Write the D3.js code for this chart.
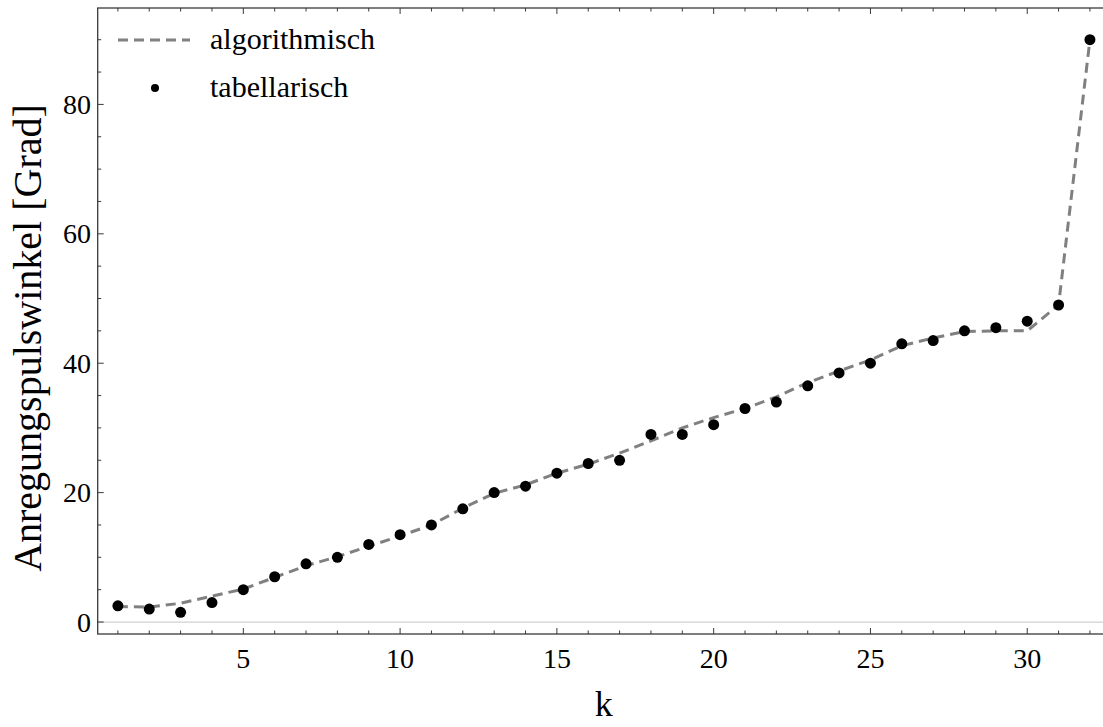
<!DOCTYPE html>
<html>
<head>
<meta charset="utf-8">
<script src="https://cdn.jsdelivr.net/npm/d3@7"></script>
<style>
  html, body { margin: 0; padding: 0; background: #fff; }
  svg { display: block; font-family: "Liberation Serif", "Times New Roman", serif; }
</style>
</head>
<body>
<svg id="chart" width="1103" height="727"></svg>
<script>
// ---- data ----
const kValues = d3.range(1, 33);
const algorithmisch = [2.4, 2.3, 2.9, 4.0, 5.1, 6.9, 8.7, 10.1, 11.7, 13.3, 15.0, 17.6, 19.9, 21.2, 23.0, 24.4,
                       26.1, 28.0, 30.0, 31.6, 33.0, 34.8, 37.0, 38.8, 40.5, 42.7, 43.9, 44.9, 45.0, 45.0, 49.0, 90.0];
const tabellarisch = [2.5, 2.0, 1.5, 3.0, 5.0, 7.0, 9.0, 10.0, 12.0, 13.5, 15.0, 17.5, 20.0, 21.0, 23.0, 24.5,
                      25.0, 29.0, 29.0, 30.5, 33.0, 34.0, 36.5, 38.5, 40.0, 43.0, 43.5, 45.0, 45.5, 46.5, 49.0, 90.0];
const xTickLabels = [5, 10, 15, 20, 25, 30];
const yTickLabels = [0, 20, 40, 60, 80];
const seriesNames = ["algorithmisch", "tabellarisch"];
const xLabel = "k";
const yLabel = "Anregungspulswinkel [Grad]";

// ---- layout ----
const svg = d3.select("#chart");
const pLeft = 97.7, pRight = 1110, pTop = 8, pBottom = 634;
const x = d3.scaleLinear().domain([0.356, 32.64]).range([pLeft, pRight]);
const y = d3.scaleLinear().domain([-1.85, 94.9]).range([pBottom, pTop]);
const frameColor = "#3a3a3a";

// zero line
svg.append("line")
  .attr("x1", pLeft).attr("x2", pRight)
  .attr("y1", y(0)).attr("y2", y(0))
  .attr("stroke", "#d0d0d0").attr("stroke-width", 1.3);

// frame
svg.append("rect")
  .attr("x", pLeft).attr("y", pTop)
  .attr("width", pRight - pLeft).attr("height", pBottom - pTop)
  .attr("fill", "none").attr("stroke", frameColor).attr("stroke-width", 1.3);

// ticks
const xMinor = d3.range(1, 33);
const yMinor = d3.range(0, 95, 5);
const tg = svg.append("g").attr("stroke", frameColor).attr("stroke-width", 1);
xMinor.forEach(v => {
  const len = (v % 5 === 0) ? 6 : 3.5;
  tg.append("line").attr("x1", x(v)).attr("x2", x(v)).attr("y1", pBottom).attr("y2", pBottom - len);
  tg.append("line").attr("x1", x(v)).attr("x2", x(v)).attr("y1", pTop).attr("y2", pTop + len);
});
yMinor.forEach(v => {
  const len = (v % 20 === 0) ? 6 : 3.5;
  tg.append("line").attr("x1", pLeft).attr("x2", pLeft + len).attr("y1", y(v)).attr("y2", y(v));
});

// tick labels
svg.append("g").selectAll("text").data(xTickLabels).join("text")
  .attr("x", d => x(d)).attr("y", 668)
  .attr("text-anchor", "middle")
  .attr("font-size", 28).attr("fill", "#000")
  .text(d => d);
svg.append("g").selectAll("text").data(yTickLabels).join("text")
  .attr("x", 91).attr("y", d => y(d))
  .attr("dy", "0.34em")
  .attr("text-anchor", "end")
  .attr("font-size", 28).attr("fill", "#000")
  .text(d => d);

// axis labels
svg.append("text")
  .attr("x", (pLeft + pRight) / 2).attr("y", 716)
  .attr("text-anchor", "middle").attr("font-size", 36).text(xLabel);
svg.append("text")
  .attr("transform", "translate(41," + 338 + ") rotate(-90)")
  .attr("text-anchor", "middle").attr("font-size", 40).text(yLabel);

// dashed line
const line = d3.line().x((d, i) => x(kValues[i])).y(d => y(d));
svg.append("path")
  .datum(algorithmisch)
  .attr("d", line)
  .attr("fill", "none")
  .attr("stroke", "#808080")
  .attr("stroke-width", 3)
  .attr("stroke-dasharray", "10,6");

// points
svg.append("g").selectAll("circle").data(tabellarisch).join("circle")
  .attr("cx", (d, i) => x(kValues[i]))
  .attr("cy", d => y(d))
  .attr("r", 5.5)
  .attr("fill", "#000");

// legend
const lg = svg.append("g");
lg.append("line").attr("x1", 118).attr("x2", 190).attr("y1", 40).attr("y2", 40)
  .attr("stroke", "#808080").attr("stroke-width", 3).attr("stroke-dasharray", "10,6");
lg.append("circle").attr("cx", 155).attr("cy", 88).attr("r", 4).attr("fill", "#000");
lg.append("text").attr("x", 210).attr("y", 49).attr("font-size", 30).text(seriesNames[0]);
lg.append("text").attr("x", 210).attr("y", 97).attr("font-size", 30).text(seriesNames[1]);
</script>
</body>
</html>
